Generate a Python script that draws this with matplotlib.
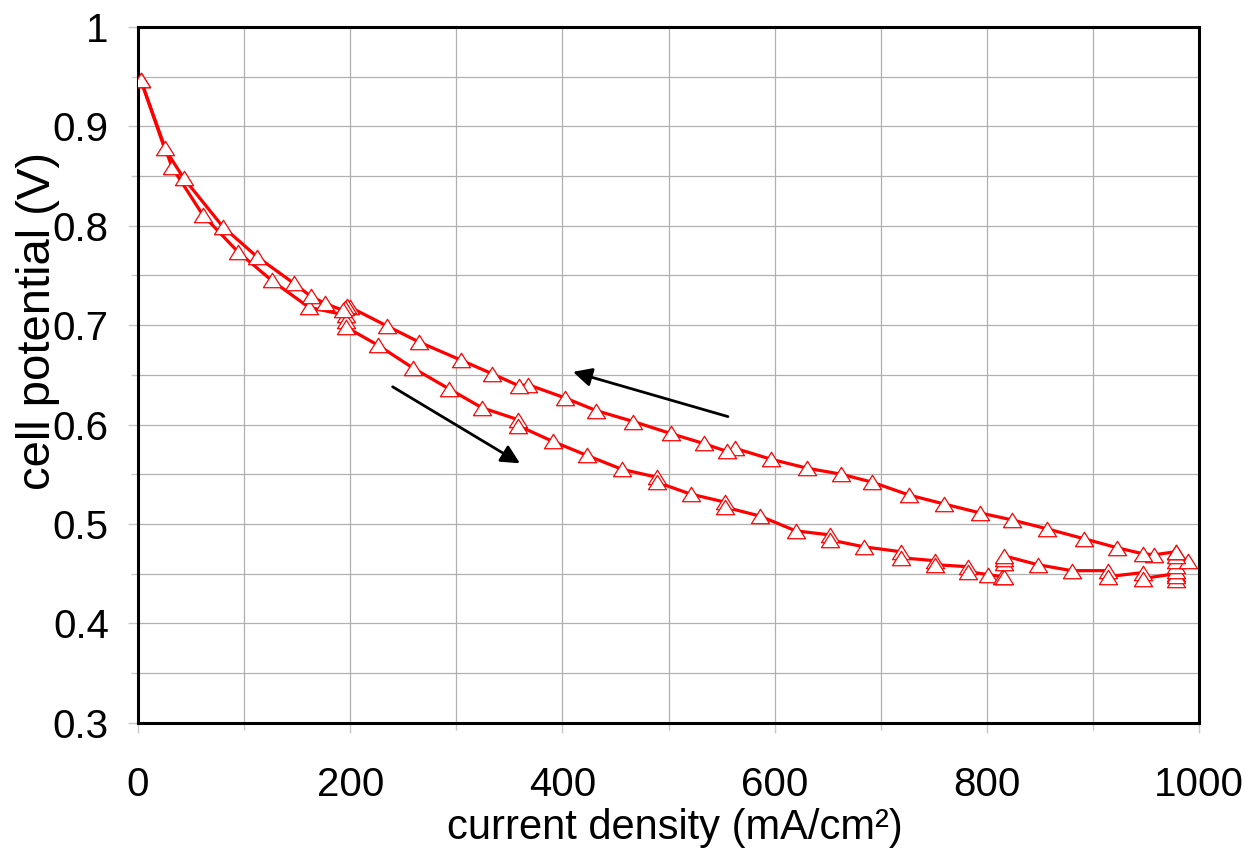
import numpy as np
import matplotlib
matplotlib.use("Agg")
import matplotlib.pyplot as plt
from matplotlib.path import Path

# forward sweep (lower branch), current density in mA/cm2, potential in V
fwd_current = [2.5, 32, 61, 94, 126, 161, 196, 196, 196, 226, 259, 293, 324,
               358, 358, 391, 423, 456, 489, 489, 521, 553, 553, 586, 620,
               652, 652, 684, 719, 719, 751, 751, 782, 782, 801, 814, 816,
               816, 816, 816, 848, 880, 914, 914, 947, 947, 978, 978, 978,
               978, 978, 978, 990, 978, 978]
fwd_potential = [0.947, 0.859, 0.811, 0.774, 0.745, 0.718, 0.710, 0.704,
                 0.698, 0.680, 0.657, 0.636, 0.617, 0.605, 0.599, 0.583,
                 0.569, 0.555, 0.547, 0.542, 0.530, 0.522, 0.517, 0.508,
                 0.493, 0.489, 0.484, 0.477, 0.472, 0.466, 0.463, 0.459,
                 0.457, 0.452, 0.449, 0.447, 0.447, 0.461, 0.465, 0.468,
                 0.459, 0.453, 0.453, 0.447, 0.451, 0.445, 0.450, 0.444,
                 0.448, 0.453, 0.458, 0.463, 0.463, 0.468, 0.472]

# reverse sweep (upper branch)
rev_current = [978, 958, 947, 923, 892, 857, 824, 794, 760, 727, 692, 663,
               631, 597, 563, 555, 533, 502, 467, 432, 402, 368, 359, 334,
               304, 265, 235, 200, 197, 195, 193, 176, 163, 147, 112, 80,
               43, 25, 2.5]
rev_potential = [0.472, 0.469, 0.470, 0.476, 0.485, 0.495, 0.504, 0.511,
                 0.520, 0.529, 0.542, 0.550, 0.556, 0.565, 0.576, 0.573,
                 0.581, 0.591, 0.603, 0.614, 0.627, 0.640, 0.639, 0.651,
                 0.665, 0.683, 0.699, 0.718, 0.719, 0.717, 0.715, 0.722,
                 0.729, 0.742, 0.769, 0.799, 0.848, 0.878, 0.947]

plt.rcParams['font.family'] = ['Liberation Sans', 'DejaVu Sans']

# squat open triangle like the excel marker
tri = Path([(-1, -0.8), (1, -0.8), (0, 0.8), (-1, -0.8)],
           [Path.MOVETO, Path.LINETO, Path.LINETO, Path.CLOSEPOLY])

fig = plt.figure(figsize=(12.45, 8.49), dpi=100)
ax = fig.add_axes([138 / 1245, 1 - 722.7 / 849, 1061 / 1245, 695.7 / 849])

for xs, ys in [(fwd_current, fwd_potential), (rev_current, rev_potential)]:
    ax.plot(xs, ys, color='#ff0000', lw=2.3, marker=tri, markersize=13,
            markerfacecolor='white', markeredgecolor='#ff0000',
            markeredgewidth=0.9, zorder=3)

# sweep direction arrows
arrow = dict(arrowstyle='-|>', color='black', lw=2, mutation_scale=28,
             shrinkA=0, shrinkB=0)
ax.annotate('', xy=(360, 0.561), xytext=(240, 0.638), arrowprops=arrow)
ax.annotate('', xy=(410, 0.653), xytext=(556, 0.608), arrowprops=arrow)

# axes limits and ticks
ax.set_xlim(0, 1000)
ax.set_ylim(0.3, 1.0)
ax.set_xticks(np.arange(0, 1001, 200))
ax.set_xticks(np.arange(100, 1000, 200), minor=True)
ax.set_yticks(np.arange(0.3, 1.001, 0.1))
ax.set_yticks(np.arange(0.35, 1.0, 0.1), minor=True)
ax.set_yticklabels(['0.3', '0.4', '0.5', '0.6', '0.7', '0.8', '0.9', '1'])

ax.grid(True, which='both', color='#b0b0b0', lw=0.9)
ax.set_axisbelow(True)

ax.tick_params(which='both', direction='out', color='#c8c8c8', width=1)
ax.tick_params(which='major', length=7, labelsize=29)
ax.tick_params(which='minor', length=5)
ax.tick_params(axis='x', pad=24)
ax.tick_params(axis='y', pad=14)

for sp in ax.spines.values():
    sp.set_linewidth(2.2)
    sp.set_color('black')

# axis labels
ax.set_xlabel('current density (mA/cm²)', fontsize=30, va='center')
ax.xaxis.set_label_coords(0.506, -0.152)
ax.set_ylabel('cell potential (V)', fontsize=34, va='center')
ax.yaxis.set_label_coords(-0.094, 0.577)

fig.savefig('out.png', dpi=100)
